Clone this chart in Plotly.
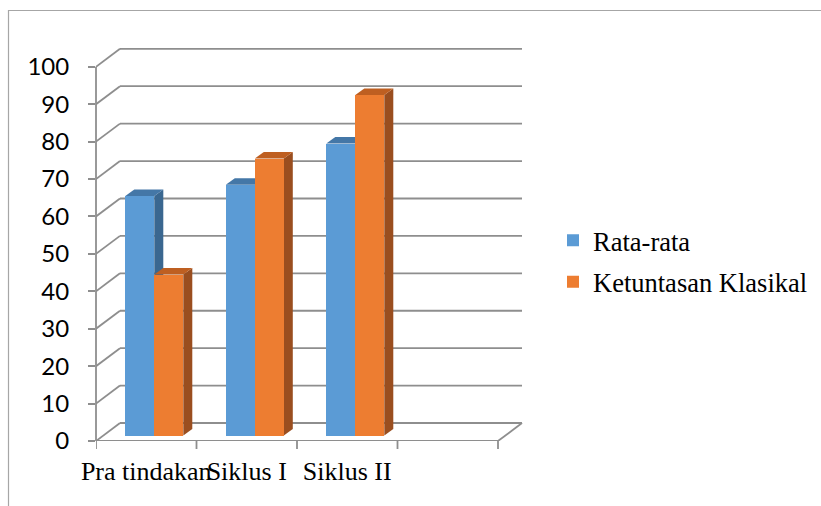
import plotly.graph_objects as go

# ---------------- data ----------------
categories = ["Pra tindakan", "Siklus I", "Siklus II", ""]
series_names = ["Rata-rata", "Ketuntasan Klasikal"]
rata_rata = [64, 67, 78]
ketuntasan = [43, 74, 91]
y_ticks = [0, 10, 20, 30, 40, 50, 60, 70, 80, 90, 100]

front_colors = ["#5B9BD5", "#ED7D31"]
top_colors = ["#4477A7", "#BE5F21"]
side_colors = ["#3A6790", "#9A4E1F"]
grid_color = "#8E8E8E"

# ---------------- geometry (pixels -> axis units) ----------------
W, H = 821, 506
L, R, T, B = 96, 296, 46, 65
plot_w = W - L - R
plot_h = H - T - B
px_x = 100.5          # pixels per category slot
px_y = 3.742          # pixels per value unit
x_max = plot_w / px_x
y_max = plot_h / px_y

wall_dx = 24 / px_x   # depth offset of back wall
wall_dy = 18 / px_y
bar_w = 29 / px_x
bar_base = 5.5 / px_y
grp_off = 0.58
side_dx = 9 / px_x
side_dy = 6.5 / px_y
n_slots = len(categories)
y_top = y_ticks[-1]

shapes = []
line = dict(color=grid_color, width=1.8)

# back wall horizontal gridlines and side-wall diagonals
for v in y_ticks:
    shapes.append(dict(type="line", xref="x", yref="y", layer="below",
                       x0=wall_dx, x1=n_slots + wall_dx, y0=v + wall_dy, y1=v + wall_dy, line=line))
    shapes.append(dict(type="line", xref="x", yref="y", layer="below",
                       x0=0, x1=wall_dx, y0=v, y1=v + wall_dy, line=line))
# front floor edge and right floor diagonal
shapes.append(dict(type="line", xref="x", yref="y", layer="below",
                   x0=0, x1=n_slots, y0=0, y1=0, line=line))
shapes.append(dict(type="line", xref="x", yref="y", layer="below",
                   x0=n_slots, x1=n_slots + wall_dx, y0=0, y1=wall_dy, line=line))
# front vertical axis line
shapes.append(dict(type="line", xref="paper", yref="y", layer="below",
                   x0=0, x1=0, y0=0, y1=y_top, line=line))
# category boundary ticks
for i in range(n_slots + 1):
    shapes.append(dict(type="line", xref="x", yref="paper", layer="below",
                       x0=i, x1=i, y0=0, y1=-8 / plot_h, line=line))

# 3D side / top faces of bars
series = [rata_rata, ketuntasan]
for s, vals in enumerate(series):
    for i, v in enumerate(vals):
        xl = i + grp_off - bar_w + s * bar_w
        xr = xl + bar_w
        top = bar_base + v
        side = (f"M{xr},{bar_base} L{xr + side_dx},{bar_base + side_dy} "
                f"L{xr + side_dx},{top + side_dy} L{xr},{top} Z")
        topf = (f"M{xl},{top} L{xl + side_dx},{top + side_dy} "
                f"L{xr + side_dx},{top + side_dy} L{xr},{top} Z")
        shapes.append(dict(type="path", xref="x", yref="y", layer="below", path=side,
                           fillcolor=side_colors[s], line=dict(width=0)))
        shapes.append(dict(type="path", xref="x", yref="y", layer="below", path=topf,
                           fillcolor=top_colors[s], line=dict(width=0)))

# outer chart frame
shapes.append(dict(type="rect", xref="paper", yref="paper", layer="below",
                   x0=(8.5 - L) / plot_w, x1=(W + 20 - L) / plot_w,
                   y0=(H - B - (H + 20)) / plot_h, y1=(H - B - 10.5) / plot_h,
                   line=dict(color="#A6A6A6", width=1.2), fillcolor="rgba(0,0,0,0)"))

fig = go.Figure()
for s, vals in enumerate(series):
    xs = [i + grp_off - bar_w / 2 + s * bar_w for i in range(len(vals))]
    fig.add_trace(go.Bar(
        x=xs, y=vals, base=[bar_base] * len(vals), width=bar_w,
        name=series_names[s], legendgroup=series_names[s],
        marker=dict(color=front_colors[s], line=dict(width=0)),
    ))

fig.update_layout(
    template="none",
    width=W, height=H,
    margin=dict(l=L, r=R, t=T, b=B, pad=0, autoexpand=False),
    paper_bgcolor="white", plot_bgcolor="white",
    shapes=shapes,
    bargap=0, barmode="overlay",
    xaxis=dict(range=[0, x_max], showgrid=False, zeroline=False, showline=False,
               automargin=False,
               tickmode="array", tickvals=[i + 0.5 for i in range(n_slots)],
               ticktext=categories, ticks="", tickangle=0, ticklabelstandoff=12,
               tickfont=dict(family="Liberation Serif", size=26, color="black")),
    yaxis=dict(range=[0, y_max], showgrid=False, zeroline=False, showline=False,
               automargin=False,
               tickmode="array", tickvals=y_ticks, ticktext=[str(t) for t in y_ticks],
               ticks="outside", ticklen=7, tickwidth=1.8, tickcolor=grid_color,
               ticklabelstandoff=14,
               tickfont=dict(family="Lato", size=24, color="black")),
    legend=dict(x=(553 - L) / plot_w, xanchor="left", y=(H - B - 261) / plot_h, yanchor="middle",
                font=dict(family="Liberation Serif", size=26.5, color="black"),
                tracegroupgap=4, traceorder="grouped", bgcolor="rgba(0,0,0,0)"),
    showlegend=True,
)

fig.write_html("out.html")
